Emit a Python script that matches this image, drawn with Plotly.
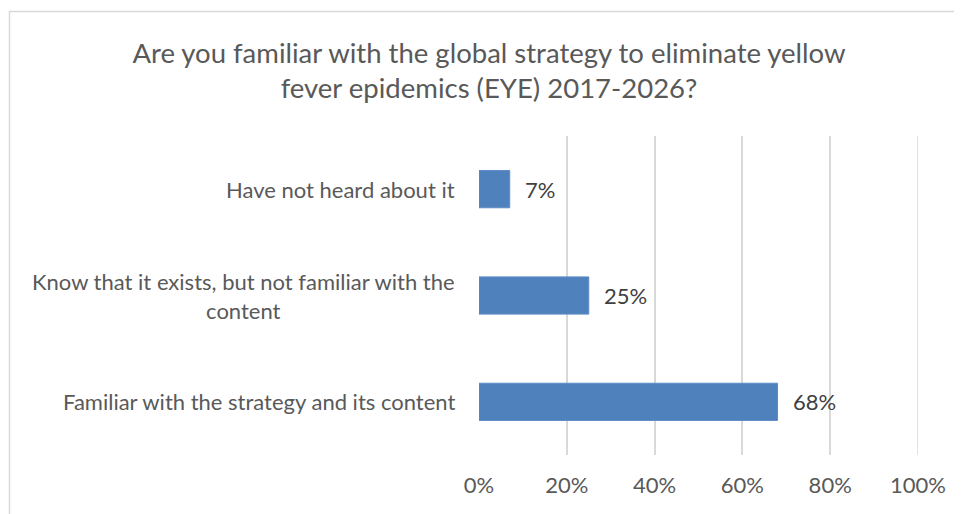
import plotly.graph_objects as go

categories = ["Familiar with the strategy and its content",
              "Know that it exists, but not familiar with the<br>content",
              "Have not heard about it"]
values = [68, 25, 7]
value_labels = ["68%", "25%", "7%"]
tick_vals = [0, 20, 40, 60, 80, 100]
tick_text = ["0%", "20%", "40%", "60%", "80%", "100%"]
title_text = "Are you familiar with the global strategy to eliminate yellow<br>fever epidemics (EYE) 2017-2026?"

FONT = "Lato"
W, H = 954, 506
L, R, T, B = 471, 910, 128, 447

fig = go.Figure()
fig.add_trace(go.Bar(
    x=values, y=categories, orientation="h",
    marker=dict(color="#4F81BD", line=dict(color="#5B8CC6", width=1)),
    width=0.35, hoverinfo="skip",
))

for v, c, t in zip(values, categories, value_labels):
    fig.add_annotation(x=v, y=c, text=t, showarrow=False, xanchor="left",
                       xshift=13, font=dict(family=FONT, size=22, color="#404040"))

for c in categories:
    fig.add_annotation(x=0, y=c, text=c, showarrow=False, xanchor="right",
                       align="center", xshift=-22,
                       font=dict(family=FONT, size=22, color="#595959"))

pw, ph = R - L, B - T
def px_x(p):
    return (p - L) / pw
def px_y(p):
    return (B - p) / ph

fig.add_shape(type="rect", xref="paper", yref="paper",
              x0=px_x(1.5), x1=px_x(975), y0=px_y(3.5), y1=px_y(530),
              line=dict(color="#D9D9D9", width=1.5), fillcolor="rgba(0,0,0,0)")

# gridline at the right end of the range
fig.add_shape(type="line", xref="x", yref="paper", x0=100, x1=100, y0=0, y1=1,
              line=dict(color="#D9D9D9", width=1.5))

fig.update_layout(
    width=W, height=H,
    margin=dict(l=L, r=W - R, t=T, b=H - B, pad=0),
    paper_bgcolor="white", plot_bgcolor="white",
    showlegend=False,
    title=dict(text=title_text, x=481 / W, xanchor="center", xref="container",
               y=1 - 54.5 / H, yanchor="middle", yref="container",
               font=dict(family=FONT, size=27.5, color="#595959")),
    xaxis=dict(range=[0, 100], tickvals=tick_vals, ticktext=tick_text,
               showgrid=True, gridcolor="#D9D9D9", gridwidth=1.5,
               zeroline=False, showline=False, ticks="",
               tickfont=dict(family=FONT, size=22, color="#595959"),
               ticklabelstandoff=15, fixedrange=True),
    yaxis=dict(showticklabels=False, showgrid=False, zeroline=False,
               showline=False, ticks="", range=[-0.5, 2.5], fixedrange=True),
)

fig.write_html("out.html")
